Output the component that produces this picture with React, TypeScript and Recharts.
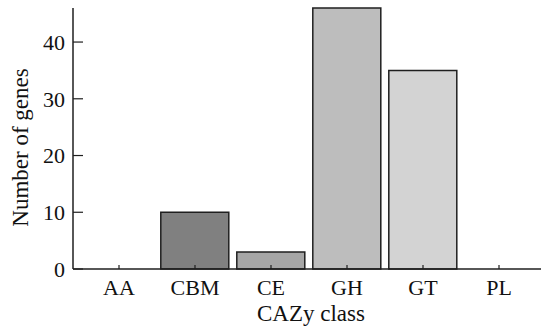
import { BarChart, Bar, XAxis, YAxis, Cell, Label } from "recharts";

const categories = ["AA", "CBM", "CE", "GH", "GT", "PL"];
const geneCounts = [0, 10, 3, 46, 35, 0];
const barFills = ["#ffffff", "#808080", "#a6a6a6", "#bdbdbd", "#d3d3d3", "#ffffff"];
const yTicks = [0, 10, 20, 30, 40];

const data = categories.map((name, i) => ({ name, value: geneCounts[i] }));

const FONT = '"Liberation Serif", "Times New Roman", serif';
const INK = "#1f1f1f";
const TXT = "#111";

const XTick = (props: any) => {
  const { x, y, payload } = props;
  return (
    <text x={x} y={y} dy="0.71em" textAnchor="middle" fontFamily={FONT} fontSize={22} fill={TXT}>
      {payload.value}
    </text>
  );
};

const YTick = (props: any) => {
  const { x, y, payload } = props;
  return (
    <text x={x} y={y} dy="0.355em" textAnchor="end" fontFamily={FONT} fontSize={22} fill={TXT}>
      {payload.value}
    </text>
  );
};

// rotated y title, centred a bit below the middle of the axis like the original
const YTitle = (props: any) => {
  const { viewBox } = props;
  const x = viewBox.x + 20;
  const y = viewBox.y + viewBox.height / 2 + 9;
  return (
    <text
      x={x}
      y={y}
      transform={`rotate(-90, ${x}, ${y})`}
      textAnchor="middle"
      dominantBaseline="central"
      fontFamily={FONT}
      fontSize={23}
      fill={TXT}
    >
      Number of genes
    </text>
  );
};

const XTitle = (props: any) => {
  const { viewBox } = props;
  const x = viewBox.x + viewBox.width / 2 + 4;
  const y = viewBox.y + viewBox.height - 9;
  return (
    <text x={x} y={y} textAnchor="middle" fontFamily={FONT} fontSize={23} fill={TXT}>
      CAZy class
    </text>
  );
};

export default function App() {
  return (
    <div style={{ position: "absolute", left: 0, top: 0, background: "#fff", fontFamily: FONT }}>
      <BarChart
        width={541}
        height={330}
        data={data}
        margin={{ top: 8, right: 0, bottom: 0, left: 0 }}
        barCategoryGap="5%"
      >
        <XAxis
          dataKey="name"
          height={61}
          padding={{ left: 8, right: 4 }}
          axisLine={{ stroke: INK, strokeWidth: 1.5 }}
          tickLine={{ stroke: INK, strokeWidth: 1.2 }}
          tickSize={-4}
          tickMargin={14}
          tick={<XTick />}
        >
          <Label content={<XTitle />} />
        </XAxis>
        <YAxis
          width={73}
          domain={[0, 46]}
          ticks={yTicks}
          interval={0}
          axisLine={{ stroke: INK, strokeWidth: 1.5 }}
          tickLine={{ stroke: INK, strokeWidth: 1.2 }}
          tickSize={-10}
          tickMargin={18}
          tick={<YTick />}
        >
          <Label content={<YTitle />} />
        </YAxis>
        <Bar dataKey="value" stroke={INK} strokeWidth={1.5} isAnimationActive={false}>
          {data.map((d, i) => (
            <Cell key={d.name} fill={barFills[i]} />
          ))}
        </Bar>
      </BarChart>
    </div>
  );
}
